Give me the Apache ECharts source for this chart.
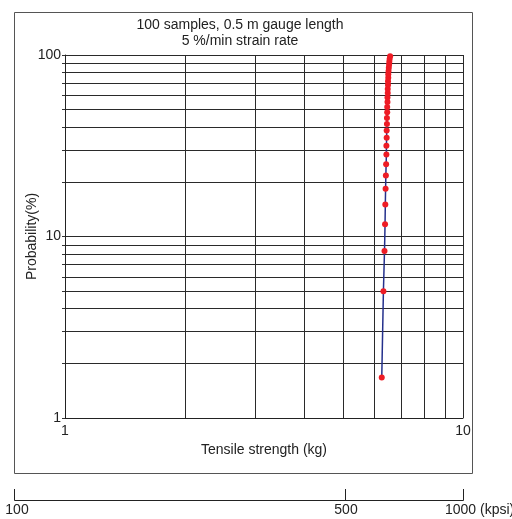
<!DOCTYPE html>
<html>
<head>
<meta charset="utf-8">
<script src="https://cdn.jsdelivr.net/npm/echarts@6/dist/echarts.min.js"></script>
<style>
	html, body { margin: 0; padding: 0; background: #fff; }
	#main { width: 512px; height: 519px; }
</style>
</head>
<body>
<div id="main"></div>
<script>
// tensile strength (kg) of each plotted point
var strengthKg = [6.25, 6.31, 6.35, 6.37, 6.38, 6.39, 6.40, 6.41, 6.42, 6.42,
	6.43, 6.43, 6.44, 6.44, 6.45, 6.45, 6.46, 6.46, 6.47, 6.47,
	6.48, 6.48, 6.49, 6.49, 6.50, 6.51, 6.52, 6.53, 6.54, 6.56];
// cumulative failure probability (%)
var probability = [1.67, 5.0, 8.33, 11.67, 15.0, 18.33, 21.67, 25.0, 28.33, 31.67,
	35.0, 38.33, 41.67, 45.0, 48.33, 51.67, 55.0, 58.33, 61.67, 65.0,
	68.33, 71.67, 75.0, 78.33, 81.67, 85.0, 88.33, 91.67, 95.0, 98.33];

var xGridValues = [1, 2, 3, 4, 5, 6, 7, 8, 9, 10];
var xLabelValues = [1, 10];
var yGridValues = [1, 2, 3, 4, 5, 6, 7, 8, 9, 10, 20, 30, 40, 50, 60, 70, 80, 90, 100];
var yLabelValues = [1, 10, 100];
var kpsiLabels = ['100', '500', '1000'];

var font = '"Liberation Sans Narrow", "Liberation Sans", Arial, sans-serif';

var points = [];
for (var i = 0; i < strengthKg.length; i++) {
	points.push([strengthKg[i], probability[i]]);
}

var myChart = echarts.init(document.getElementById('main'), null, { renderer: 'canvas' });

var option = {
	animation: false,
	backgroundColor: '#ffffff',
	title: {
		text: '100 samples, 0.5 m gauge length\n5 %/min strain rate',
		left: 240,
		top: 17,
		padding: 0,
		textAlign: 'center',
		textStyle: {
			fontFamily: font,
			fontSize: 14,
			fontWeight: 'normal',
			color: '#222',
			lineHeight: 16
		}
	},
	grid: {
		left: 65,
		top: 55,
		width: 398,
		height: 363
	},
	xAxis: {
		type: 'log',
		logBase: 10,
		min: 1,
		max: 10,
		name: 'Tensile strength (kg)',
		nameLocation: 'middle',
		nameGap: 25,
		nameMoveOverlap: false,
		nameTextStyle: { fontFamily: font, fontSize: 14, color: '#222' },
		axisLine: { show: true, lineStyle: { color: '#222', width: 1 } },
		axisTick: { show: false, customValues: xGridValues },
		axisLabel: {
			customValues: xLabelValues,
			margin: 6,
			fontFamily: font,
			fontSize: 14,
			color: '#222'
		},
		splitLine: { show: true, lineStyle: { color: '#2a2a2a', width: 1 } }
	},
	yAxis: {
		type: 'log',
		logBase: 10,
		min: 1,
		max: 100,
		name: 'Probability(%)',
		nameLocation: 'middle',
		nameGap: 26,
		nameMoveOverlap: false,
		nameTextStyle: { fontFamily: font, fontSize: 14, color: '#222' },
		axisLine: { show: true, lineStyle: { color: '#222', width: 1 } },
		axisTick: { show: true, length: 3, customValues: yGridValues, lineStyle: { color: '#333' } },
		axisLabel: {
			customValues: yLabelValues,
			margin: 4,
			fontFamily: font,
			fontSize: 14,
			color: '#222'
		},
		splitLine: { show: true, lineStyle: { color: '#2a2a2a', width: 1 } }
	},
	series: [{
		type: 'line',
		data: points,
		symbol: 'circle',
		symbolSize: 6,
		lineStyle: { color: '#24308c', width: 1.5 },
		itemStyle: { color: '#ee1c25', borderWidth: 0 },
		z: 5
	}],
	graphic: [
		// outer frame
		{
			type: 'rect',
			shape: { x: 14.5, y: 12.5, width: 458, height: 461 },
			style: { fill: null, stroke: '#555', lineWidth: 1 },
			silent: true
		},
		// kpsi scale
		{
			type: 'polyline',
			shape: { points: [[14.5, 489], [14.5, 500.5], [463.5, 500.5], [463.5, 489]] },
			style: { fill: null, stroke: '#222', lineWidth: 1 }
		},
		{
			type: 'line',
			shape: { x1: 345.5, y1: 489, x2: 345.5, y2: 500.5 },
			style: { stroke: '#222', lineWidth: 1 }
		},
		{
			type: 'text', x: 17, y: 510,
			style: { text: kpsiLabels[0], font: '14px ' + font, fill: '#222', textAlign: 'center', textVerticalAlign: 'middle' }
		},
		{
			type: 'text', x: 346, y: 510,
			style: { text: kpsiLabels[1], font: '14px ' + font, fill: '#222', textAlign: 'center', textVerticalAlign: 'middle' }
		},
		{
			type: 'text', x: 445, y: 510,
			style: { text: kpsiLabels[2] + ' (kpsi)', font: '14px ' + font, fill: '#222', textAlign: 'left', textVerticalAlign: 'middle' }
		}
	]
};

myChart.setOption(option);
</script>
</body>
</html>
